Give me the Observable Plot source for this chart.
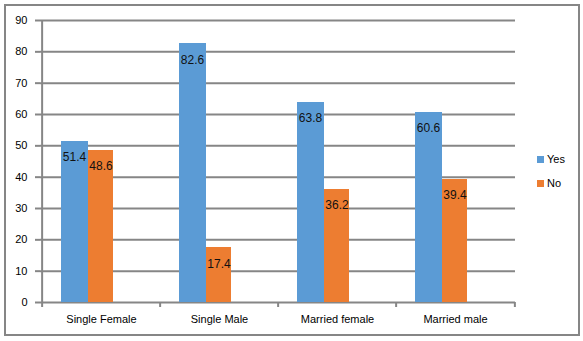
<!DOCTYPE html>
<html>
<head>
<meta charset="utf-8">
<script src="https://cdn.jsdelivr.net/npm/d3@7"></script>
<script src="https://cdn.jsdelivr.net/npm/@observablehq/plot@0.6"></script>
<style>
  html, body { margin: 0; padding: 0; background: #fff; }
  #wrap { position: relative; width: 583px; height: 341px; font-family: "Liberation Sans", Arial, sans-serif; }
  #border { position: absolute; left: 4px; top: 4px; width: 572px; height: 328px; border: 2px solid #868686; box-sizing: content-box; pointer-events: none; }
  #legend { position: absolute; left: 537px; top: 147px; font-size: 11px; color: #000; }
  .item { display: flex; align-items: center; height: 24px; }
  .sw { width: 7px; height: 7px; margin-right: 3px; }
</style>
</head>
<body>
<div id="wrap">
  <div id="chart"></div>
  <div id="border"></div>
  <div id="legend"></div>
</div>
<script>
const categories = ["Single Female", "Single Male", "Married female", "Married male"];
const yesValues = [51.4, 82.6, 63.8, 60.6];
const noValues = [48.6, 17.4, 36.2, 39.4];
const seriesNames = ["Yes", "No"];
const seriesColors = ["#5B9BD5", "#ED7D31"];
const yTicks = [0, 10, 20, 30, 40, 50, 60, 70, 80, 90];

const W = 583, H = 341, mL = 40, mR = 68, mT = 20, mB = 39;
const step = (W - mL - mR) / categories.length;
const bw = step * 0.2232;
const grid = "#868686";

const yesData = categories.map((c, i) => ({category: c, value: yesValues[i]}));
const noData = categories.map((c, i) => ({category: c, value: noValues[i]}));

const chart = Plot.plot({
  width: W, height: H,
  marginLeft: mL, marginRight: mR, marginTop: mT, marginBottom: mB,
  style: {fontFamily: '"Liberation Sans", Arial, sans-serif', background: "transparent"},
  x: {domain: categories, padding: 0, axis: null},
  y: {domain: [0, 90], axis: null},
  marks: [
    Plot.gridY(yTicks, {stroke: grid, strokeOpacity: 1, strokeWidth: 2}),
    Plot.ruleX([categories[0]], {dx: -step / 2, stroke: grid, strokeWidth: 2}),
    Plot.axisY({ticks: yTicks, tickSize: 5, tickPadding: 8, stroke: grid, strokeWidth: 2, fill: "#000", fontSize: 11, label: null}),
    Plot.axisX({tickSize: 5, tickFormat: () => "", dx: -step / 2, stroke: grid, strokeWidth: 2, label: null}),
    Plot.axisX({ticks: [categories[categories.length - 1]], tickSize: 5, tickFormat: () => "", dx: step / 2, stroke: grid, strokeWidth: 2, label: null}),
    Plot.axisX({tickSize: 0, tickPadding: 13, fill: "#000", fontSize: 11, label: null}),
    Plot.barY(yesData, {x: "category", y: "value", fill: seriesColors[0], insetLeft: step / 2 - 1.5 * bw, insetRight: step / 2 + 0.5 * bw - 1.5, dx: -0.5, shapeRendering: "crispEdges"}),
    Plot.barY(noData, {x: "category", y: "value", fill: seriesColors[1], insetLeft: step / 2 - 0.5 * bw, insetRight: step / 2 - 0.5 * bw, dx: -0.5, shapeRendering: "crispEdges"}),
    Plot.text(yesData, {x: "category", y: "value", text: d => d.value.toFixed(1), dx: -bw - 0.5, dy: 16, fontSize: 12, fill: "#111"}),
    Plot.text(noData, {x: "category", y: "value", text: d => d.value.toFixed(1), dx: -0.5, dy: 16, fontSize: 12, fill: "#111"})
  ]
});
document.getElementById("chart").appendChild(chart);

const legend = document.getElementById("legend");
seriesNames.forEach((s, i) => {
  const it = document.createElement("div");
  it.className = "item";
  const sw = document.createElement("div");
  sw.className = "sw";
  sw.style.background = seriesColors[i];
  const t = document.createElement("span");
  t.textContent = s;
  it.appendChild(sw); it.appendChild(t);
  legend.appendChild(it);
});
</script>
</body>
</html>
